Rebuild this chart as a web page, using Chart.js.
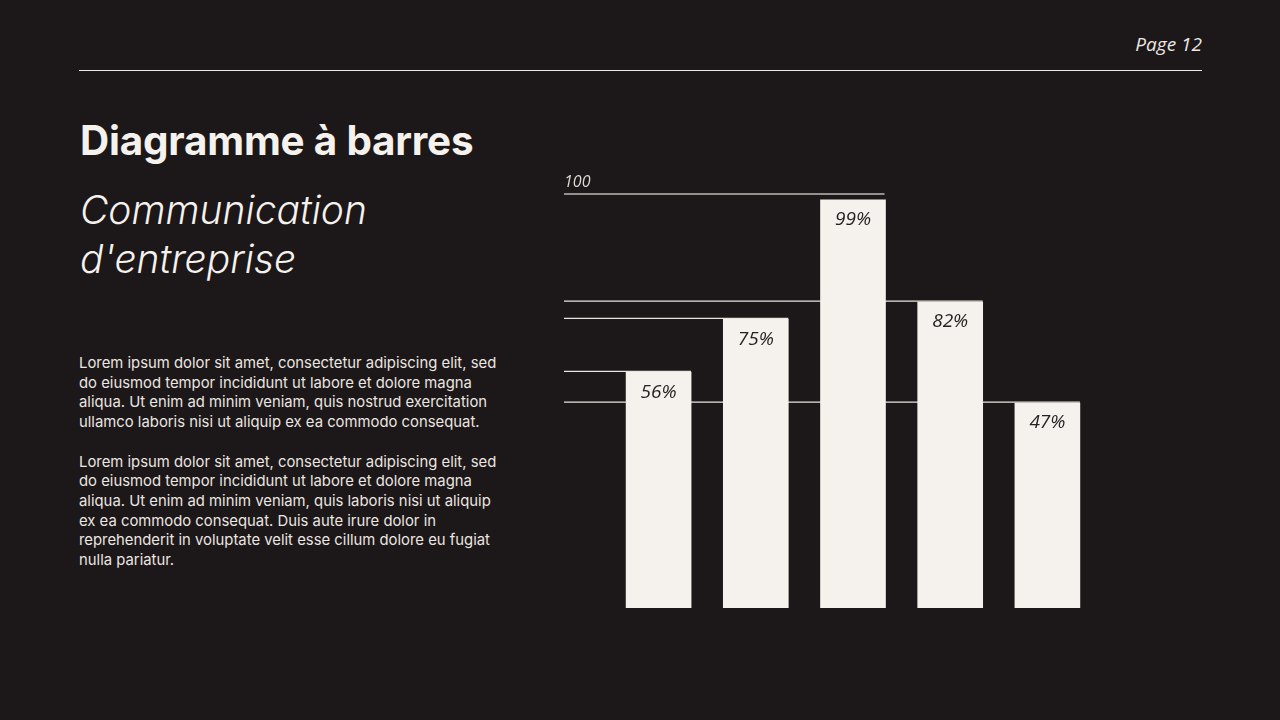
<!DOCTYPE html>
<html lang="fr">
<head>
<meta charset="utf-8">
<title>Diagramme à barres</title>
<script src="https://cdn.jsdelivr.net/npm/chart.js@4.4.1/dist/chart.umd.min.js"></script>
<style>
    html, body { margin: 0; padding: 0; }
    body {
        width: 1280px; height: 720px; overflow: hidden;
        background: #1c1718; color: #f3efea;
        font-family: Inter, "Noto Sans", sans-serif;
        position: relative;
    }
    .page-num {
        position: absolute; right: 78px; top: 31px;
        font-family: "Open Sans", "Noto Sans", sans-serif;
        font-style: italic; font-size: 19px; color: #ece8e3;
    }
    .rule {
        position: absolute; left: 79px; top: 70px; width: 1123px; height: 0;
        border-top: 1.5px solid #ece8e3;
    }
    h1 {
        position: absolute; left: 80px; top: 116px; margin: 0;
        font-size: 40.4px; font-weight: 700; letter-spacing: -0.2px; color: #f5f1ec;
    }
    h2 {
        position: absolute; left: 80px; top: 185px; margin: 0;
        font-size: 39px; font-weight: 300; font-style: italic; line-height: 49px; color: #f5f1ec;
    }
    .body-text {
        position: absolute; left: 79px; top: 354px; width: 440px;
        font-size: 14.85px; line-height: 19.7px; color: #ebe6e1;
    }
    .body-text p { margin: 0 0 19.7px 0; }
    #chart-wrap { position: absolute; left: 540px; top: 150px; width: 580px; height: 470px; }
</style>
</head>
<body>
<div class="page-num">Page 12</div>
<div class="rule"></div>
<h1>Diagramme à barres</h1>
<h2>Communication<br>d'entreprise</h2>
<div class="body-text">
    <p>Lorem ipsum dolor sit amet, consectetur adipiscing elit, sed<br>do eiusmod tempor incididunt ut labore et dolore magna<br>aliqua. Ut enim ad minim veniam, quis nostrud exercitation<br>ullamco laboris nisi ut aliquip ex ea commodo consequat.</p>
    <p>Lorem ipsum dolor sit amet, consectetur adipiscing elit, sed<br>do eiusmod tempor incididunt ut labore et dolore magna<br>aliqua. Ut enim ad minim veniam, quis laboris nisi ut aliquip<br>ex ea commodo consequat. Duis aute irure dolor in<br>reprehenderit in voluptate velit esse cillum dolore eu fugiat<br>nulla pariatur.</p>
</div>
<div id="chart-wrap"><canvas id="bar-chart"></canvas></div>

<script>
(function () {
    "use strict";

    var categories = ["A", "B", "C", "D", "E"];
    // bar heights as drawn on the 0-100 scale
    var barHeights = [56.9, 69.7, 98.6, 73.9, 49.5];
    // the percentages printed inside each bar
    var percentLabels = ["56%", "75%", "99%", "82%", "47%"];
    var scaleMax = 100;

    var barColor = "#f5f1ec";
    var lineColor = "#e9e5e0";

    /* Guide lines: from the left edge to the right side of each bar, plus the 100 line */
    var guideLines = {
        id: "guideLines",
        beforeDatasetsDraw: function (chart) {
            var ctx = chart.ctx;
            var yScale = chart.scales.y;
            var bars = chart.getDatasetMeta(0).data;
            var startX = chart.chartArea.left - 46;

            ctx.save();
            ctx.lineWidth = 1.3;

            // 100 line ends just short of the tallest bar's right side
            var tallest = 0;
            barHeights.forEach(function (v, i) { if (v > barHeights[tallest]) tallest = i; });
            var topY = yScale.getPixelForValue(scaleMax);
            ctx.strokeStyle = "#bdb8b4";
            ctx.beginPath();
            ctx.moveTo(startX, topY);
            ctx.lineTo(bars[tallest].x + bars[tallest].width / 2 - 1, topY);
            ctx.stroke();

            ctx.fillStyle = "#ddd8d3";
            ctx.font = "italic 16px 'Open Sans', 'Noto Sans', sans-serif";
            ctx.textAlign = "left";
            ctx.textBaseline = "alphabetic";
            ctx.fillText(String(scaleMax), startX, topY - 7);

            ctx.strokeStyle = lineColor;
            bars.forEach(function (bar, i) {
                if (i === tallest) return;
                ctx.beginPath();
                ctx.moveTo(startX, bar.y - 1);
                ctx.lineTo(bar.x + bar.width / 2, bar.y - 1);
                ctx.stroke();
            });
            ctx.restore();
        },
        afterDatasetsDraw: function (chart) {
            var ctx = chart.ctx;
            var bars = chart.getDatasetMeta(0).data;
            ctx.save();
            ctx.fillStyle = "#262122";
            ctx.font = "italic 19px 'Open Sans', 'Noto Sans', sans-serif";
            ctx.textAlign = "center";
            ctx.textBaseline = "middle";
            bars.forEach(function (bar, i) {
                ctx.fillText(percentLabels[i], bar.x, bar.y + 20);
            });
            ctx.restore();
        }
    };

    new Chart(document.getElementById("bar-chart").getContext("2d"), {
        type: "bar",
        data: {
            labels: categories,
            datasets: [{
                data: barHeights,
                backgroundColor: barColor,
                borderWidth: 0,
                barThickness: 65
            }]
        },
        options: {
            responsive: true,
            maintainAspectRatio: false,
            animation: false,
            layout: { padding: { left: 70, right: 24, top: 44, bottom: 12 } },
            plugins: {
                legend: { display: false },
                tooltip: { enabled: false }
            },
            scales: {
                x: { display: false },
                y: { display: false, min: 0, max: scaleMax }
            }
        },
        plugins: [guideLines]
    });
})();
</script>
</body>
</html>
